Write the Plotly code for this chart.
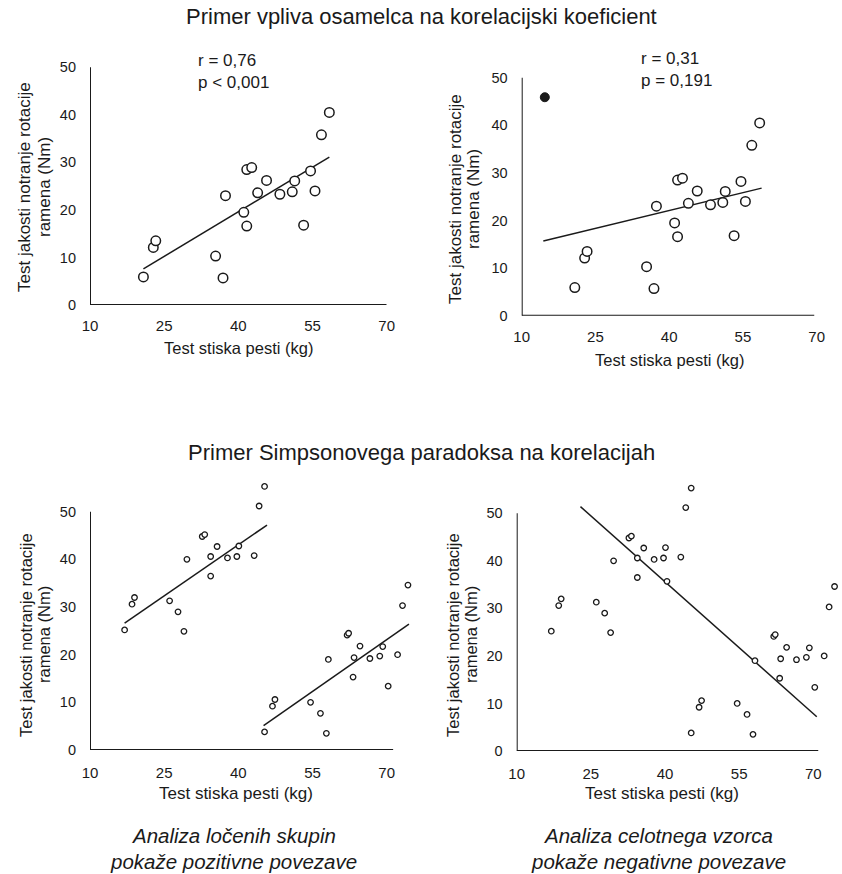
import plotly.graph_objects as go

W, H = 842, 874

# ---------------- data ----------------
# Top panels: grip strength (kg) vs internal shoulder rotation strength (Nm)
grip_x = [20.8, 22.8, 23.3, 35.4, 36.9, 37.4, 41.1, 41.7, 41.7, 42.7,
          43.9, 45.7, 48.4, 50.9, 51.4, 53.2, 54.6, 55.5, 56.8, 58.4]
rot_y = [5.9, 12.1, 13.5, 10.3, 5.7, 23.0, 19.5, 16.6, 28.5, 28.9,
         23.6, 26.2, 23.3, 23.8, 26.1, 16.8, 28.2, 24.0, 35.8, 40.5]
outlier_x = [14.7]
outlier_y = [45.9]

trend1_x = [20.8, 58.4]
trend1_y = [7.6, 31.1]
trend2_x = [14.4, 58.8]
trend2_y = [15.7, 26.8]

# Bottom panels: two groups (Simpson's paradox)
grpA_x = [17.0, 18.5, 19.0, 26.1, 27.8, 29.0, 29.6, 32.7, 33.2, 34.4,
          34.4, 35.7, 37.8, 39.7, 40.1, 43.2, 44.2, 45.3]
grpA_y = [25.2, 30.6, 32.0, 31.3, 29.0, 24.9, 40.0, 44.8, 45.2, 40.6,
          36.5, 42.7, 40.3, 40.6, 42.8, 40.8, 51.2, 55.3]
grpA_extra_x = [40.4]
grpA_extra_y = [35.7]
grpB_x = [45.3, 46.9, 47.4, 54.6, 56.6, 57.8, 58.2, 62.0, 62.3, 63.4,
          63.2, 64.6, 66.6, 68.6, 69.2, 70.3, 72.2, 73.2, 74.3]
grpB_y = [3.8, 9.2, 10.6, 10.0, 7.7, 3.5, 19.0, 24.1, 24.5, 19.4,
          15.3, 21.8, 19.2, 19.7, 21.7, 13.4, 20.0, 30.3, 34.6]

trend3a_x = [17.0, 45.8]
trend3a_y = [26.6, 47.2]
trend3b_x = [45.1, 74.5]
trend3b_y = [5.1, 26.4]
trend4_x = [22.9, 70.7]
trend4_y = [51.4, 7.2]

x_ticks = [10, 25, 40, 55, 70]
y_ticks = [0, 10, 20, 30, 40, 50]

title_top = "Primer vpliva osamelca na korelacijski koeficient"
title_bottom = "Primer Simpsonovega paradoksa na korelacijah"
x_title = "Test stiska pesti (kg)"
y_title_lines = ["Test jakosti notranje rotacije", "ramena (Nm)"]
stats1 = ["r = 0,76", "p < 0,001"]
stats2 = ["r = 0,31", "p = 0,191"]
caption_left = ["Analiza ločenih skupin", "pokaže pozitivne povezave"]
caption_right = ["Analiza celotnega vzorca", "pokaže negativne povezave"]

# ---------------- styling ----------------
REG = "Liberation Sans, Arial, sans-serif"
INK = "#1a1a1a"


def px(x):
    return x / W


def py(y):
    return 1 - y / H


panels = {
    1: dict(x0=90.0, sx=(386.7 - 90.0) / 60, y0=305.0, sy=(305.0 - 67.3) / 50, xr=[10, 70], yr=[0, 51]),
    2: dict(x0=521.7, sx=(816.7 - 521.7) / 60, y0=315.7, sy=(315.7 - 77.7) / 50, xr=[10, 70], yr=[0, 51]),
    3: dict(x0=90.0, sx=(386.7 - 90.0) / 60, y0=750.0, sy=(750.0 - 511.7) / 50, xr=[10, 75.5], yr=[0, 57]),
    4: dict(x0=516.7, sx=(813.3 - 516.7) / 60, y0=751.0, sy=(751.0 - 513.3) / 50, xr=[10, 75.5], yr=[0, 57]),
}

fig = go.Figure()
layout = dict(width=W, height=H, margin=dict(l=0, r=0, t=0, b=0),
              paper_bgcolor="white", plot_bgcolor="white", showlegend=False)

for i, p in panels.items():
    left = p["x0"]
    right = p["x0"] + (p["xr"][1] - p["xr"][0]) * p["sx"]
    bottom = p["y0"]
    top = p["y0"] - (p["yr"][1] - p["yr"][0]) * p["sy"]
    small = i >= 3
    sfx = "" if i == 1 else str(i)
    layout["xaxis" + sfx] = dict(domain=[px(left), min(px(right), 1)], range=p["xr"],
                                 anchor="y" + sfx, showgrid=False, zeroline=False,
                                 showline=False, ticks="", tickvals=x_ticks, automargin=False,
                                 tickfont=dict(family=REG, size=15, color=INK),
                                 ticklabelstandoff=12 if small else 10)
    layout["yaxis" + sfx] = dict(domain=[py(bottom), py(top)], range=p["yr"],
                                 anchor="x" + sfx, showgrid=False, zeroline=False,
                                 showline=False, ticks="", tickvals=y_ticks, automargin=False,
                                 tickfont=dict(family=REG, size=14.5, color=INK),
                                 ticklabelstandoff=13)

fig.update_layout(**layout)


def axes_lines(i, xmax):
    sfx = "" if i == 1 else str(i)
    xr, yr = "x" + sfx, "y" + sfx
    fig.add_shape(type="line", xref=xr, yref=yr, x0=10, x1=10, y0=0, y1=50,
                  line=dict(color=INK, width=2))
    fig.add_shape(type="line", xref=xr, yref=yr, x0=10, x1=xmax, y0=0, y1=0,
                  line=dict(color=INK, width=2))


axes_lines(1, 70)
axes_lines(2, 69.5)
axes_lines(3, 71.3)
axes_lines(4, 71.0)

open_big = dict(symbol="circle", size=9.5, color="white", line=dict(color=INK, width=1.5))
open_small = dict(symbol="circle", size=5.5, color="white", line=dict(color=INK, width=1.3))
line_style = dict(color=INK, width=1.5)

# panel 1
fig.add_trace(go.Scatter(x=trend1_x, y=trend1_y, mode="lines", line=line_style, xaxis="x", yaxis="y"))
fig.add_trace(go.Scatter(x=grip_x, y=rot_y, mode="markers", marker=open_big, xaxis="x", yaxis="y"))
# panel 2
fig.add_trace(go.Scatter(x=trend2_x, y=trend2_y, mode="lines", line=line_style, xaxis="x2", yaxis="y2"))
fig.add_trace(go.Scatter(x=grip_x, y=rot_y, mode="markers", marker=open_big, xaxis="x2", yaxis="y2"))
fig.add_trace(go.Scatter(x=outlier_x, y=outlier_y, mode="markers",
                         marker=dict(symbol="circle", size=9, color=INK, line=dict(color=INK, width=1)),
                         xaxis="x2", yaxis="y2"))
# panel 3
for tx, ty in [(trend3a_x, trend3a_y), (trend3b_x, trend3b_y)]:
    fig.add_trace(go.Scatter(x=tx, y=ty, mode="lines", line=line_style, xaxis="x3", yaxis="y3"))
fig.add_trace(go.Scatter(x=grpA_x + grpB_x, y=grpA_y + grpB_y, mode="markers",
                         marker=open_small, xaxis="x3", yaxis="y3"))
# panel 4
fig.add_trace(go.Scatter(x=trend4_x, y=trend4_y, mode="lines", line=line_style, xaxis="x4", yaxis="y4"))
fig.add_trace(go.Scatter(x=grpA_x + grpA_extra_x + grpB_x, y=grpA_y + grpA_extra_y + grpB_y,
                         mode="markers", marker=open_small, xaxis="x4", yaxis="y4"))

ann = []


def text(x, y, s, font, xanchor="center", angle=0):
    ann.append(dict(x=px(x), y=py(y), xref="paper", yref="paper", text=s, showarrow=False,
                    xanchor=xanchor, yanchor="middle", font=font, textangle=angle))


fT = dict(family=REG, size=22, color=INK)
text(421, 17, title_top, fT)
text(421, 452, title_bottom, fT)

fS = dict(family=REG, size=17, color=INK)
text(196, 60, stats1[0], fS, "left")
text(196, 83, stats1[1], fS, "left")
text(639, 59, stats2[0], fS, "left")
text(639, 81, stats2[1], fS, "left")

fX = dict(family=REG, size=16.5, color=INK)
text(238, 348, x_title, fX)
text(669, 360, x_title, fX)
fXb = dict(family=REG, size=17, color=INK)
text(236, 793, x_title, fXb)
text(662, 793, x_title, fXb)

fY = dict(family=REG, size=17, color=INK)
fYb = dict(family=REG, size=16.5, color=INK)
for (xa, xb, yc, f) in [(24, 44, 187, fY), (455, 473, 199, fY),
                        (26, 44, 635, fYb), (453, 471, 635, fYb)]:
    text(xa, yc, y_title_lines[0], f, angle=-90)
    text(xb, yc, y_title_lines[1], f, angle=-90)

fC = dict(family=REG, size=20.5, color=INK, style="italic")
text(234, 835, caption_left[0], fC)
text(234, 861, caption_left[1], fC)
text(658, 835, caption_right[0], fC)
text(658, 861, caption_right[1], fC)

fig.update_layout(annotations=ann)
fig.write_html("out.html")
